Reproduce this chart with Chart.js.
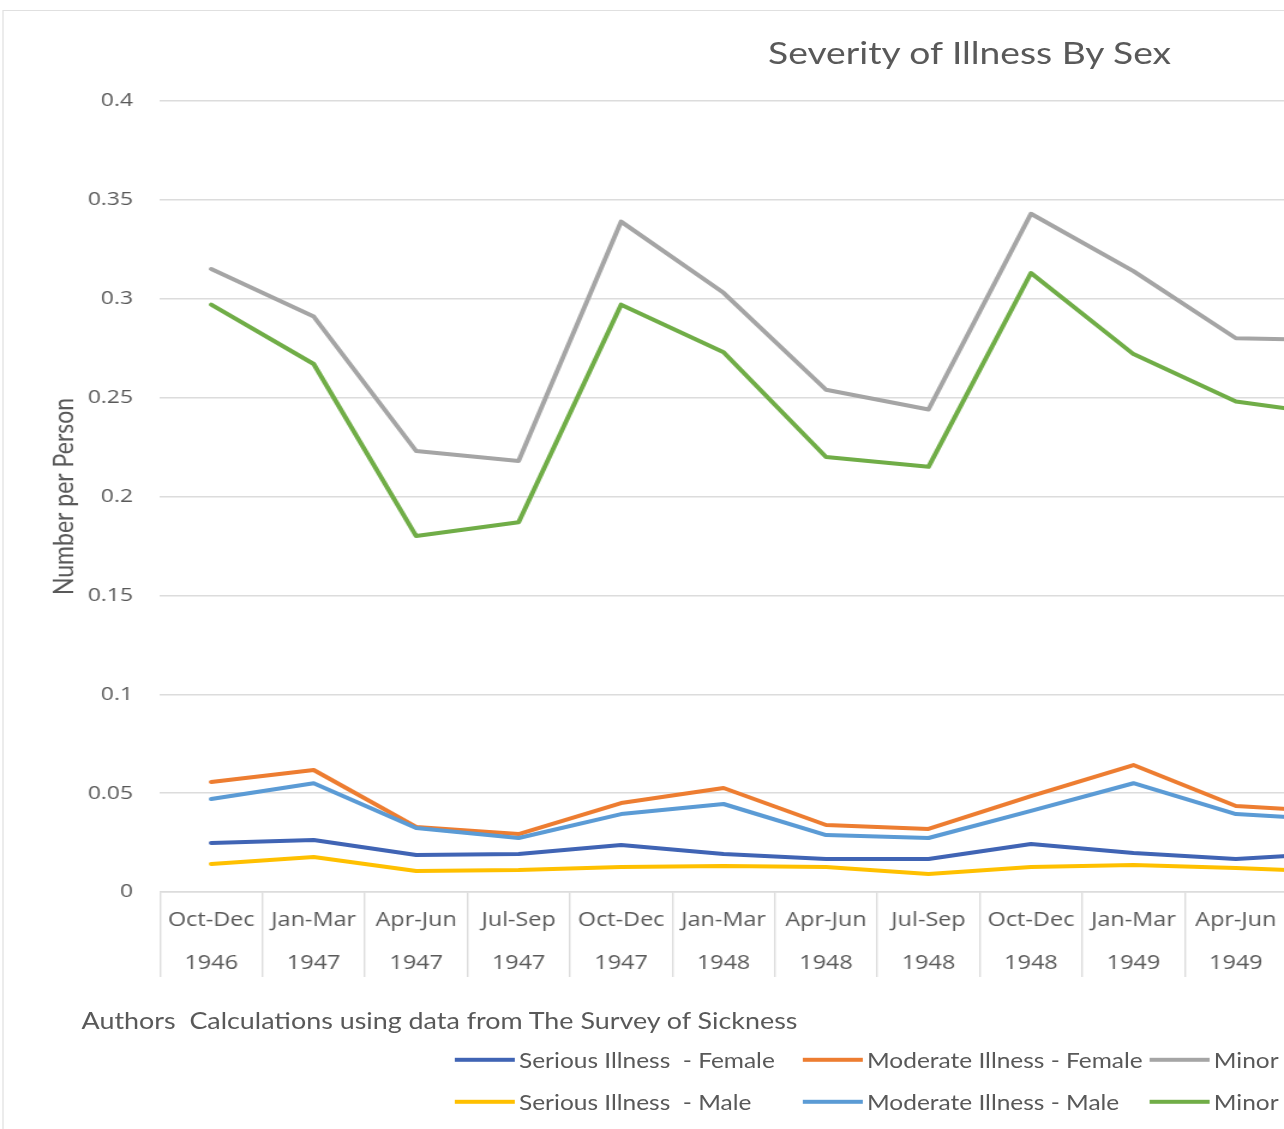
<!DOCTYPE html>
<html>
<head>
<meta charset="utf-8">
<title>Severity of Illness By Sex</title>
<script src="https://cdn.jsdelivr.net/npm/chart.js@4.4.1/dist/chart.umd.min.js"></script>
<style>
  html, body { margin: 0; padding: 0; background: #fff; overflow: hidden; width: 1284px; height: 1129px; }
  /* the whole figure is laid out in a frame that is widened 1.2x horizontally */
  #frame { position: absolute; left: 0; top: 0; width: 1640px; height: 1129px; transform: scaleX(1.2); transform-origin: 0 0; }
  #edge { position: absolute; left: 2px; top: 10px; width: 1620px; height: 1200px; border: 1.5px solid #e0e0e0; box-sizing: border-box; }
  #plot { position: absolute; left: 0; top: 0; width: 1168px; height: 992px; }
  .txt { position: absolute; white-space: pre; color: #595959; font-family: Lato, sans-serif; line-height: 1; }
  #title { left: 808px; top: 52px; transform: translate(-50%, -50%); font-size: 31px; }
  #source { left: 68px; top: 1021px; transform: translateY(-50%); font-size: 22.4px; }
  .key { position: absolute; display: flex; align-items: center; transform: translateY(-50%); white-space: pre; }
  .key i { display: block; width: 50px; height: 4px; margin-right: 3.5px; }
  .key span { font-family: Lato, sans-serif; font-size: 20.4px; color: #595959; line-height: 1; }
</style>
</head>
<body>
<div id="frame">
  <div id="edge"></div>
  <div id="plot"><canvas id="chart"></canvas></div>
  <div id="title" class="txt">Severity of Illness By Sex</div>
  <div id="source" class="txt">Authors  Calculations using data from The Survey of Sickness</div>
  <div id="legend"></div>
</div>
<script>
// Quarterly periods (two-line category labels)
const quarters = ['Oct-Dec', 'Jan-Mar', 'Apr-Jun', 'Jul-Sep', 'Oct-Dec', 'Jan-Mar',
                  'Apr-Jun', 'Jul-Sep', 'Oct-Dec', 'Jan-Mar', 'Apr-Jun', 'Jul-Sep'];
const years = ['1946', '1947', '1947', '1947', '1947', '1948',
               '1948', '1948', '1948', '1949', '1949', '1949'];

// Number of illnesses per person, by severity and sex
const seriousFemale  = [0.0248, 0.0263, 0.0187, 0.0192, 0.0238, 0.0192, 0.0167, 0.0167, 0.0243, 0.0197, 0.0167, 0.0197];
const moderateFemale = [0.0556, 0.0617, 0.0329, 0.0293, 0.0450, 0.0526, 0.0339, 0.0319, 0.0485, 0.0642, 0.0435, 0.0405];
const minorFemale    = [0.315, 0.291, 0.223, 0.218, 0.339, 0.303, 0.254, 0.244, 0.343, 0.314, 0.280, 0.279];
const seriousMale    = [0.0142, 0.0177, 0.0106, 0.0111, 0.0126, 0.0131, 0.0126, 0.0091, 0.0126, 0.0137, 0.0121, 0.0101];
const moderateMale   = [0.0470, 0.0550, 0.0324, 0.0273, 0.0394, 0.0445, 0.0288, 0.0273, 0.0410, 0.0550, 0.0394, 0.0364];
const minorMale      = [0.297, 0.267, 0.180, 0.187, 0.297, 0.273, 0.220, 0.215, 0.313, 0.272, 0.248, 0.241];

const seriesNames = ['Serious Illness  - Female', 'Moderate Illness - Female', 'Minor Illness - Female',
                     'Serious Illness  - Male', 'Moderate Illness - Male', 'Minor Illness - Male'];
const seriesColors = ['#4064b4', '#ed7d31', '#a5a5a5', '#ffc000', '#5b9bd5', '#70ad47'];
const seriesValues = [seriousFemale, moderateFemale, minorFemale, seriousMale, moderateMale, minorMale];

const yTicks = { min: 0, max: 0.4, step: 0.05 };

const labels = quarters.map((q, i) => [q, years[i]]);
const datasets = seriesValues.map((vals, i) => ({
  label: seriesNames[i],
  data: vals,
  borderColor: seriesColors[i],
  backgroundColor: seriesColors[i],
  borderWidth: 4,
  pointRadius: 0,
  tension: 0,
  borderJoinStyle: 'round',
  borderCapStyle: 'round',
  order: seriesValues.length - i
}));

const grey = '#595959';
const gridGrey = '#dcdcdc';

new Chart(document.getElementById('chart'), {
  type: 'line',
  data: { labels, datasets },
  options: {
    responsive: true,
    maintainAspectRatio: false,
    animation: false,
    layout: { padding: { top: 101, left: 10, right: 10, bottom: 0 } },
    plugins: { legend: { display: false }, tooltip: { enabled: false } },
    scales: {
      x: {
        offset: true,
        grid: { display: true, drawOnChartArea: false, offset: true, tickLength: 85, color: gridGrey, lineWidth: 1.4 },
        border: { display: true, color: gridGrey, width: 1.5 },
        ticks: {
          color: grey,
          padding: -78,
          maxRotation: 0,
          autoSkip: false,
          font: { family: "'Open Sans', sans-serif", size: 19.5, lineHeight: 2.22 }
        },
        afterFit: s => { s.height = 100; }
      },
      y: {
        min: yTicks.min,
        max: yTicks.max,
        grid: { color: gridGrey, lineWidth: 1.5, drawTicks: false },
        border: { display: false },
        ticks: {
          stepSize: yTicks.step,
          color: grey,
          padding: 22.5,
          font: { family: "'Open Sans', sans-serif", size: 19 },
          callback: v => String(+Number(v).toFixed(2))
        },
        title: {
          display: true,
          text: 'Number per Person',
          color: grey,
          padding: { top: 30, bottom: 0 },
          font: { family: 'Lato, sans-serif', size: 23, lineHeight: 1.2 }
        },
        afterFit: s => { s.width = 123.33; }
      }
    }
  }
});

// Legend in three columns, female row above male row
const legendBox = document.getElementById('legend');
const keyCols = [379, 669, 958];
const keyRows = [1060, 1102];
seriesNames.forEach((name, i) => {
  const item = document.createElement('div');
  item.className = 'key';
  item.style.left = keyCols[i % 3] + 'px';
  item.style.top = keyRows[Math.floor(i / 3)] + 'px';
  const swatch = document.createElement('i');
  swatch.style.background = seriesColors[i];
  const text = document.createElement('span');
  text.textContent = name;
  item.appendChild(swatch);
  item.appendChild(text);
  legendBox.appendChild(item);
});
</script>
</body>
</html>
